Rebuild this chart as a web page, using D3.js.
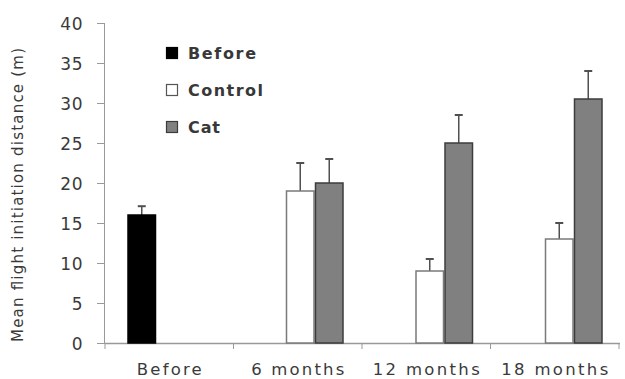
<!DOCTYPE html>
<html><head><meta charset="utf-8">
<script src="https://cdn.jsdelivr.net/npm/d3@7"></script>
<style>body{margin:0;background:#fff}</style>
</head><body>
<svg id="c" width="625" height="379"></svg>
<script>
const categories = ["Before", "6 months", "12 months", "18 months"];
const series = ["Before", "Control", "Cat"];
const beforeVals = [16, null, null, null];
const beforeErr  = [1.1, null, null, null];
const controlVals = [null, 19, 9, 13];
const controlErr  = [null, 3.5, 1.5, 2];
const catVals = [null, 20, 25, 30.5];
const catErr  = [null, 3, 3.5, 3.5];
const yTicks = [0, 5, 10, 15, 20, 25, 30, 35, 40];
const yLabel = "Mean flight initiation distance (m)";

const fills = {Before: "#000", Control: "#fff", Cat: "#808080"};
const strokes = {Before: "#000", Control: "#7a7a7a", Cat: "#3c3c3c"};
const vals = {Before: beforeVals, Control: controlVals, Cat: catVals};
const errs = {Before: beforeErr, Control: controlErr, Cat: catErr};

const svg = d3.select("#c");
const L = 105, R = 620, T = 23, B = 343;
const x = d3.scaleBand().domain(categories).range([L, L + 4 * 128.5]);
const xb = d3.scaleBand().domain(categories).range([L, L + 4 * 129.5]);
const y = d3.scaleLinear().domain([0, 40]).range([B, T]);
const barW = 29;
const xs = d3.scaleBand().domain(series).range([0, barW * 3]);
const txt = "#3a3a3a", axc = "#999", font = "DejaVu Sans";

// y axis
const ya = svg.append("g").attr("transform", `translate(${L},0)`)
  .call(d3.axisLeft(y).tickValues(yTicks).tickSize(8).tickPadding(14));
ya.select(".domain").attr("stroke", axc).attr("d", `M-0.5,${T}V${B}`);
ya.selectAll(".tick line").attr("stroke", axc);
ya.selectAll(".tick text").attr("fill", txt).style("font-family", font)
  .style("font-size", "17px").attr("letter-spacing", "0.5px").attr("dy", "0.36em");

// x axis
const xa = svg.append("g").attr("transform", `translate(0,${B})`);
xa.append("line").attr("x1", L).attr("x2", R).attr("y1", 0.5).attr("y2", 0.5).attr("stroke", axc).attr("stroke-width", 1.5);
const bounds = categories.map(c => x(c)).concat([x(categories[3]) + x.bandwidth()]);
xa.selectAll("line.t").data(bounds).join("line").attr("class", "t")
  .attr("x1", d => d).attr("x2", d => d).attr("y1", 0).attr("y2", 6).attr("stroke", axc);
const xw = [65, 93, 107, 107];
xa.selectAll("text").data(categories).join("text")
  .attr("x", d => x(d) + x.bandwidth() / 2).attr("y", 32)
  .attr("text-anchor", "middle").attr("fill", txt)
  .style("font-family", font).style("font-size", "16.5px")
  .attr("textLength", (d, i) => xw[i]).attr("lengthAdjust", "spacing")
  .text(d => d);

// bars
series.forEach(s => {
  const data = categories.map((c, i) => ({c, v: vals[s][i], e: errs[s][i]})).filter(d => d.v != null);
  const bx = d => xb(d.c) + xb.bandwidth() / 2 - barW * 1.5 + xs(s) + 1;
  const g = svg.append("g");
  g.selectAll("line.e").data(data).join("line").attr("class", "e")
    .attr("x1", d => bx(d) + barW / 2).attr("x2", d => bx(d) + barW / 2)
    .attr("y1", d => y(d.v)).attr("y2", d => y(d.v + d.e))
    .attr("stroke", "#505050").attr("stroke-width", 1.5);
  g.selectAll("line.c").data(data).join("line").attr("class", "c")
    .attr("x1", d => bx(d) + barW / 2 - 4).attr("x2", d => bx(d) + barW / 2 + 4)
    .attr("y1", d => y(d.v + d.e)).attr("y2", d => y(d.v + d.e))
    .attr("stroke", "#505050").attr("stroke-width", 2);
  g.selectAll("rect").data(data).join("rect")
    .attr("x", d => bx(d) + 0.75).attr("width", barW - 1.5)
    .attr("y", d => y(d.v)).attr("height", d => B - y(d.v))
    .attr("fill", fills[s]).attr("stroke", strokes[s]).attr("stroke-width", 1.5);
});

// legend
const lg = svg.append("g");
const ly = [53, 90, 127];
const lw = [68, 75, 32];
series.forEach((s, i) => {
  lg.append("rect").attr("x", 166.5).attr("y", ly[i] - 5.5).attr("width", 11).attr("height", 11)
    .attr("fill", fills[s]).attr("stroke", s === "Control" ? "#555" : strokes[s]).attr("stroke-width", 1.2);
  lg.append("text").attr("x", 188).attr("y", ly[i]).attr("dy", "0.36em")
    .attr("fill", "#383838").style("font-family", font).style("font-size", "16px").style("font-weight", "bold")
    .attr("textLength", lw[i]).attr("lengthAdjust", "spacing").text(s);
});

// y label
svg.append("text").attr("transform", `translate(23,195) rotate(-90)`)
  .attr("text-anchor", "middle").attr("fill", txt)
  .style("font-family", font).style("font-size", "15px")
  .attr("textLength", 294).attr("lengthAdjust", "spacing")
  .text(yLabel);
</script>
</body></html>
